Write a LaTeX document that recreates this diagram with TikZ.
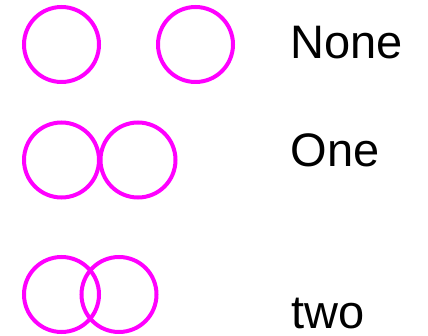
\documentclass[tikz,border=0pt]{standalone}
\usepackage{fontspec}
\setmainfont{Liberation Sans}
\begin{document}
\begin{tikzpicture}[x=1pt,y=-1pt,
  ring/.style={circle,draw=magenta,line width=4pt,inner sep=0pt,minimum size=75pt},
  lbl/.style={anchor=base west,inner sep=0pt,text depth=0pt,font=\fontsize{47}{50}\selectfont}]
\useasboundingbox (0,0) rectangle (428,336);
\definecolor{magenta}{RGB}{255,0,255}
\node[ring] (none1) at (61.5,44.5) {};
\node[ring] (none2) at (195.5,44.5) {};
\node[ring] (one1) at (61.5,160) {};
\node[ring] (one2) at (138,160) {};
\node[ring] (two1) at (61.5,294.5) {};
\node[ring] (two2) at (119,294.5) {};
\node[lbl] (lnone) at (290.5,58.3) {None};
\node[lbl] (lone) at (290.5,167) {One};
\node[lbl] (ltwo) at (291,329) {two};
\end{tikzpicture}
\end{document}
